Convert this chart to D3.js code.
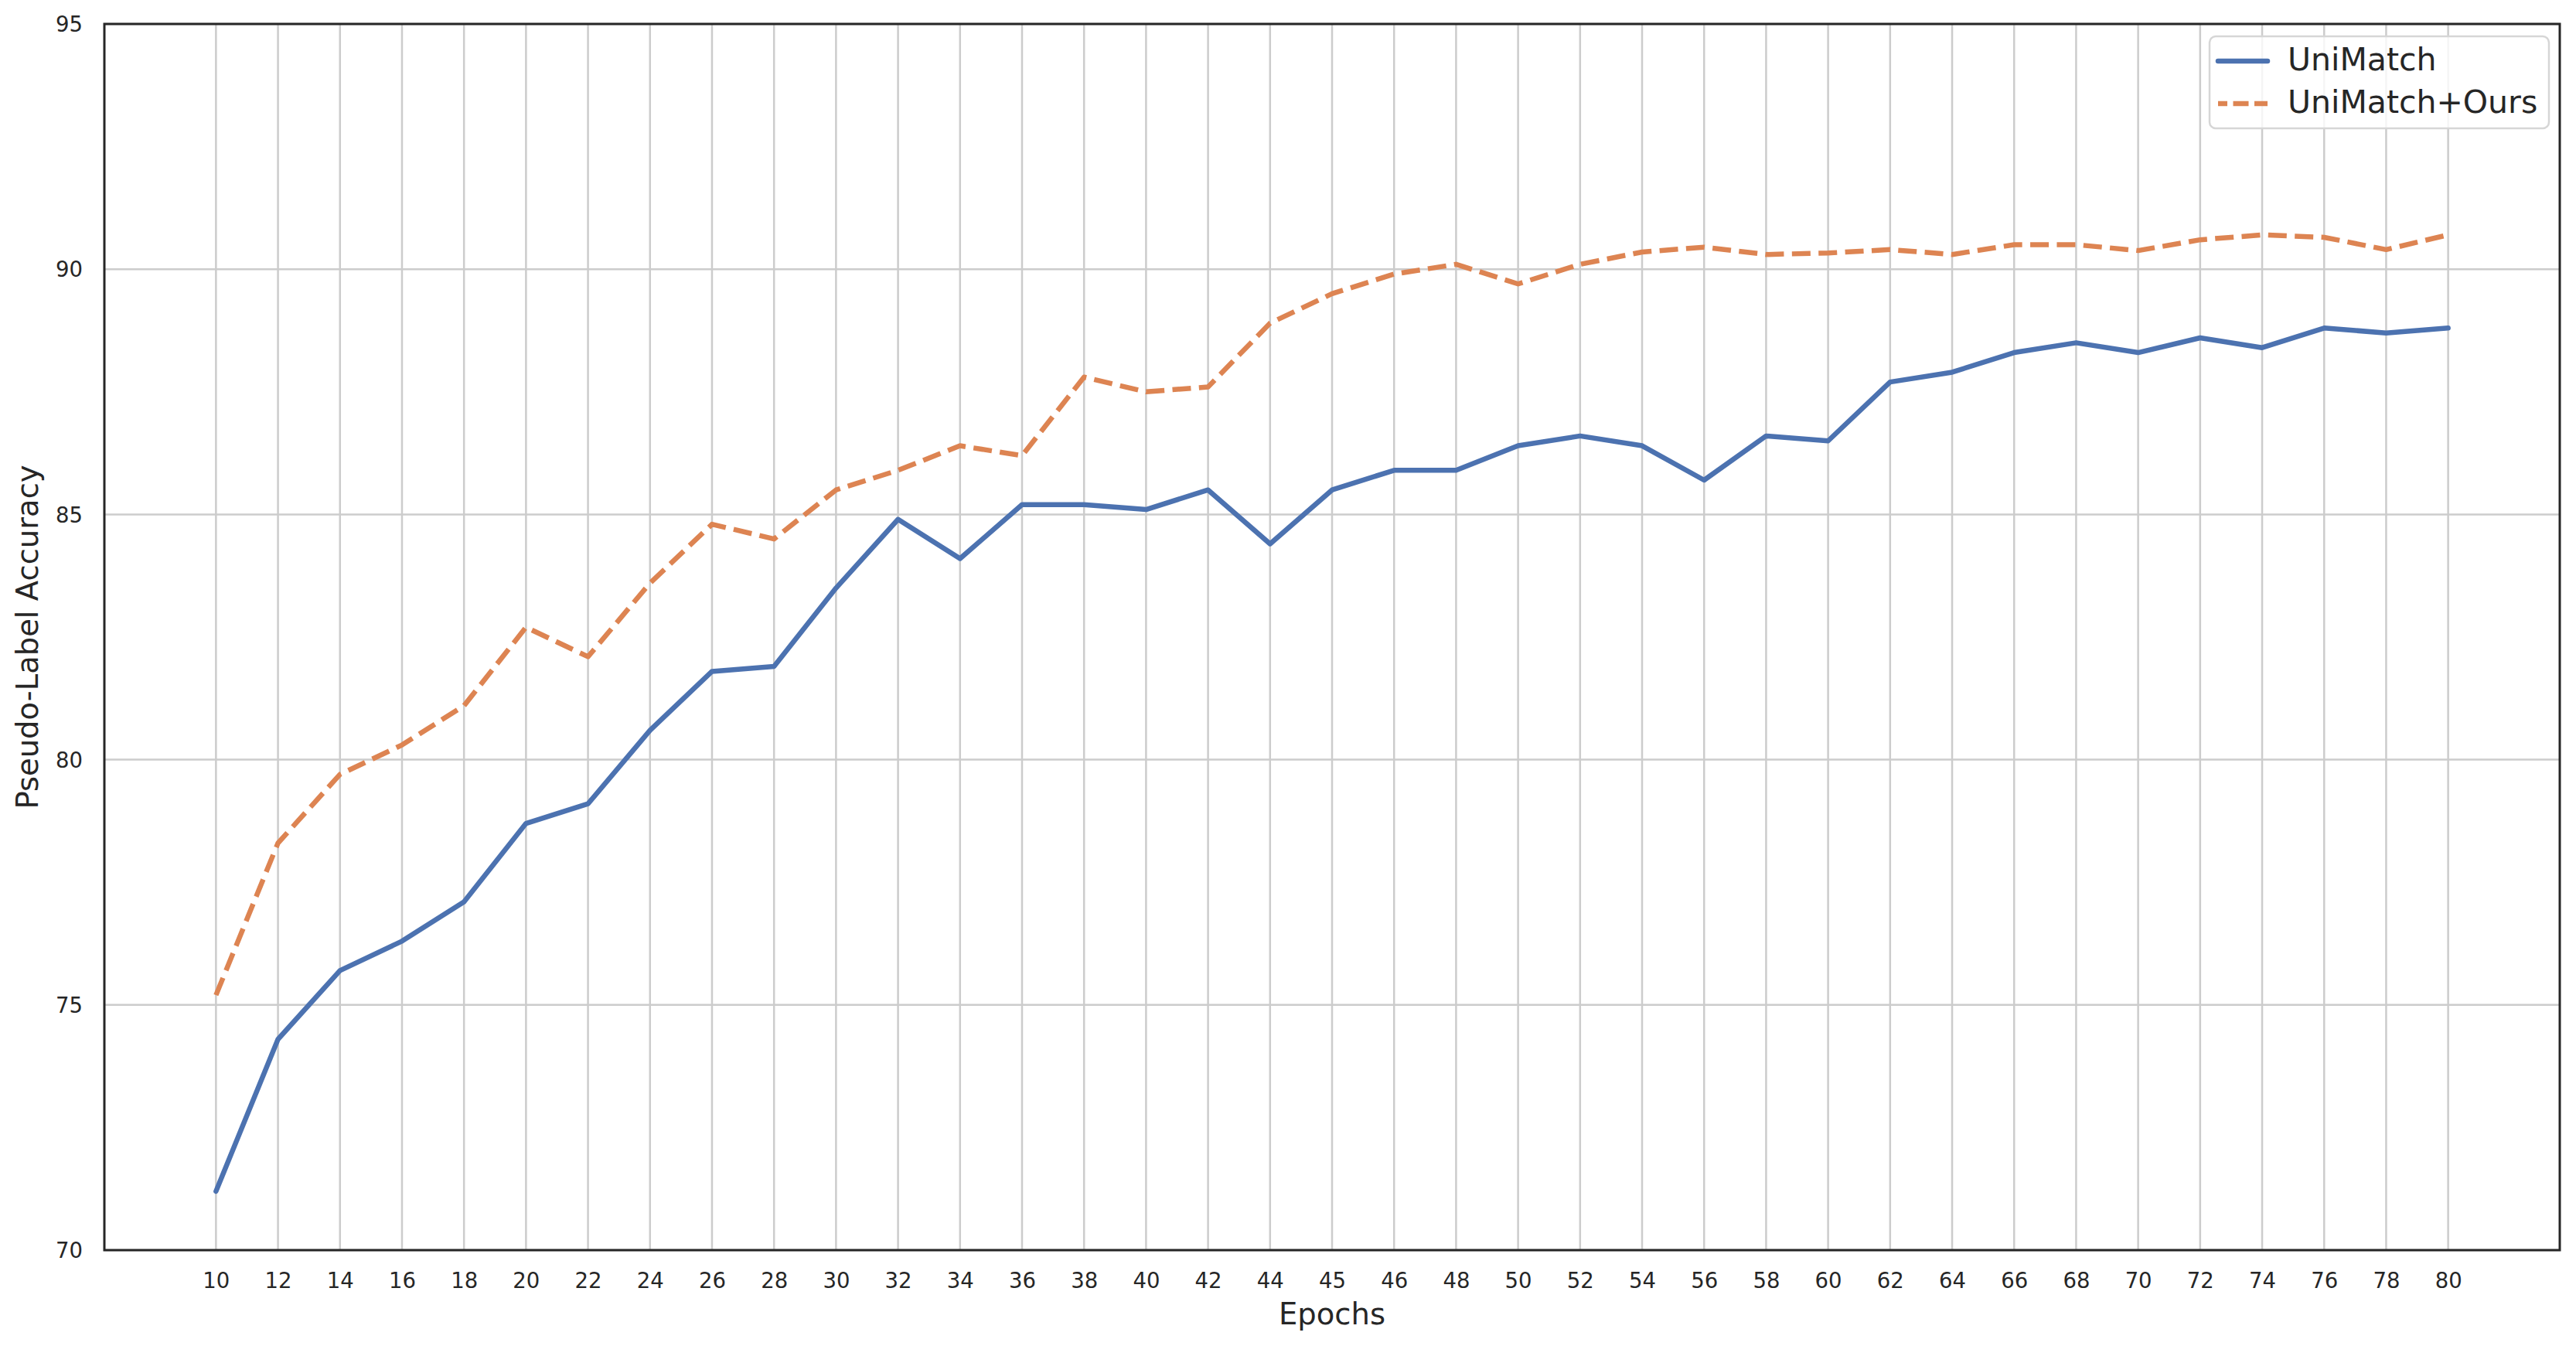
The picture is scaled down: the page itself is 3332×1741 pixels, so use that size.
<!DOCTYPE html>
<html>
<head>
<meta charset="utf-8">
<script src="https://cdn.jsdelivr.net/npm/d3@7"></script>
<style>
  html, body { margin: 0; padding: 0; background: #ffffff; }
  svg { display: block; }
  text { font-family: "DejaVu Sans", sans-serif; fill: #262626; }
</style>
</head>
<body>
<script>
const epochs = ["10","12","14","16","18","20","22","24","26","28","30","32","34","36","38","40","42","44","45","46","48","50","52","54","56","58","60","62","64","66","68","70","72","74","76","78","80"];
const unimatch = [71.2,74.3,75.7,76.3,77.1,78.7,79.1,80.6,81.8,81.9,83.5,84.9,84.1,85.2,85.2,85.1,85.5,84.4,85.5,85.9,85.9,86.4,86.6,86.4,85.7,86.6,86.5,87.7,87.9,88.3,88.5,88.3,88.6,88.4,88.8,88.7,88.8];
const unimatchOurs = [75.2,78.3,79.7,80.3,81.1,82.7,82.1,83.6,84.8,84.5,85.5,85.9,86.4,86.2,87.8,87.5,87.6,88.9,89.5,89.9,90.1,89.7,90.1,90.35,90.45,90.3,90.33,90.4,90.3,90.5,90.5,90.38,90.6,90.7,90.65,90.4,90.7];
const yTicks = [70,75,80,85,90,95];
const seriesNames = ["UniMatch","UniMatch+Ours"];
const seriesColors = ["#4C72B0","#DD8452"];

(function () {
const W = 3332, H = 1741;
const pL = 135, pR = 3311, pT = 31, pB = 1617;

const svg = d3.select("body").append("svg").attr("width", W).attr("height", H);

const x = d3.scalePoint().domain(epochs).range([pL, pR]).padding(1.8);
const y = d3.scaleLinear().domain([70, 95]).range([pB, pT]);

// grid
const grid = svg.append("g");
grid.selectAll("line.vx").data(epochs).enter().append("line")
  .attr("x1", d => x(d)).attr("x2", d => x(d)).attr("y1", pT).attr("y2", pB)
  .attr("stroke", "#cccccc").attr("stroke-width", 2.5);
grid.selectAll("line.hy").data(yTicks).enter().append("line")
  .attr("x1", pL).attr("x2", pR).attr("y1", d => y(d)).attr("y2", d => y(d))
  .attr("stroke", "#cccccc").attr("stroke-width", 2.5);

// axes via d3
const xAxis = svg.append("g").attr("transform", `translate(0,${pB})`)
  .call(d3.axisBottom(x).tickSize(0).tickPadding(0));
xAxis.select(".domain").remove();
xAxis.selectAll("text").attr("y", 49).attr("dy", 0)
  .style("font-size", "27.5px").style("font-family", "DejaVu Sans").attr("fill", "#262626");

const yAxis = svg.append("g").attr("transform", `translate(${pL},0)`)
  .call(d3.axisLeft(y).tickValues(yTicks).tickSize(0).tickPadding(28));
yAxis.select(".domain").remove();
yAxis.selectAll("text").attr("dy", "0.35em")
  .style("font-size", "27.5px").style("font-family", "DejaVu Sans").attr("fill", "#262626");

// lines
const line = d3.line().x((d, i) => x(epochs[i])).y(d => y(d));
svg.append("path").datum(unimatch).attr("d", line)
  .attr("fill", "none").attr("stroke", seriesColors[0]).attr("stroke-width", 6.5)
  .attr("stroke-linecap", "round").attr("stroke-linejoin", "round");
svg.append("path").datum(unimatchOurs).attr("d", line)
  .attr("fill", "none").attr("stroke", seriesColors[1]).attr("stroke-width", 6.5)
  .attr("stroke-dasharray", "24,10.4").attr("stroke-linejoin", "round");

// spines
svg.append("rect").attr("x", pL).attr("y", pT).attr("width", pR - pL).attr("height", pB - pT)
  .attr("fill", "none").attr("stroke", "#262626").attr("stroke-width", 3);

// axis labels
svg.append("text").attr("x", (pL + pR) / 2).attr("y", 1713).attr("text-anchor", "middle")
  .style("font-size", "38.5px").text("Epochs");
svg.append("text").attr("transform", `translate(49,${(pT + pB) / 2}) rotate(-90)`)
  .attr("text-anchor", "middle").style("font-size", "38.5px").text("Pseudo-Label Accuracy");

// legend
const lg = svg.append("g");
lg.append("rect").attr("x", 2858).attr("y", 47).attr("width", 439).attr("height", 119)
  .attr("rx", 8).attr("ry", 8).attr("fill", "#ffffff").attr("fill-opacity", 0.8)
  .attr("stroke", "#d6d6d6").attr("stroke-width", 2.5);
seriesNames.forEach((name, i) => {
  const yy = 79 + i * 55;
  lg.append("line").attr("x1", 2869).attr("x2", 2933).attr("y1", yy).attr("y2", yy)
    .attr("stroke", seriesColors[i]).attr("stroke-width", 6.5)
    .attr("stroke-dasharray", i === 1 ? "20,7.5" : null)
    .attr("stroke-dashoffset", i === 1 ? 8 : null)
    .attr("stroke-linecap", i === 0 ? "round" : "butt");
  lg.append("text").attr("x", 2959).attr("y", yy + 12).style("font-size", "41px").text(name);
});
})();
</script>
</body>
</html>
